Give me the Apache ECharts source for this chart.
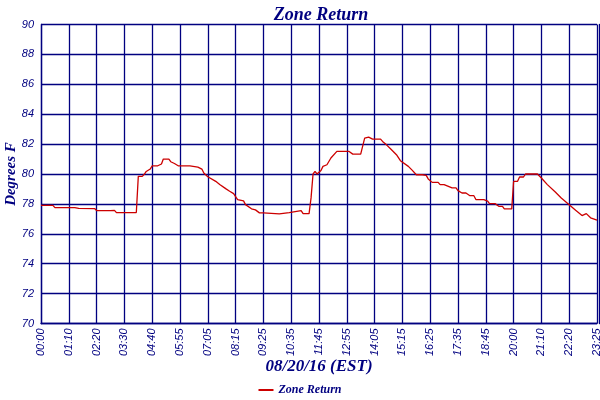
<!DOCTYPE html>
<html>
<head>
<meta charset="utf-8">
<script src="https://cdn.jsdelivr.net/npm/echarts@6/dist/echarts.min.js"></script>
<style>html,body{margin:0;padding:0;background:#fff}#c{width:600px;height:400px}</style>
</head>
<body>
<div id="c"></div>
<script>
var tickLabels = ['00:00','01:10','02:20','03:30','04:40','05:55','07:05','08:15','09:25','10:35','11:45','12:55','14:05','15:15','16:25','17:35','18:45','20:00','21:10','22:20','23:25'];
var times = ['00:00','00:30','00:35','01:25','01:30','01:35','02:15','02:20','02:55','03:00','03:05','03:10','04:00','04:05','04:15','04:20','04:25','04:35','04:40','04:55','05:05','05:10','05:25','05:30','05:35','05:40','05:50','06:20','06:40','06:45','06:50','06:55','07:05','07:10','07:25','07:35','07:50','08:00','08:10','08:20','08:35','08:40','08:55','09:00','09:05','09:15','09:25','09:30','10:05','10:10','10:30','10:35','11:00','11:05','11:20','11:25','11:30','11:35','11:40','11:45','11:50','11:55','12:00','12:05','12:15','12:20','12:30','13:00','13:05','13:10','13:30','13:35','13:40','13:45','13:50','14:00','14:20','14:25','14:35','14:45','15:00','15:10','15:30','15:40','15:50','16:05','16:10','16:15','16:20','16:30','16:45','16:50','17:00','17:05','17:20','17:30','17:35','17:45','17:55','18:05','18:15','18:20','18:40','18:50','18:55','19:10','19:20','19:30','19:35','19:55','20:00','20:05','20:10','20:15','20:25','20:30','21:00','21:05','21:10','21:25','21:45','22:00','22:20','22:35','22:50','23:00','23:10','23:25'];
var temps = [77.9,77.9,77.75,77.75,77.8,77.7,77.69,77.55,77.55,77.42,77.57,77.42,77.42,79.84,79.84,79.98,80.17,80.33,80.55,80.55,80.67,81.0,81.0,80.82,80.82,80.7,80.55,80.55,80.46,80.33,80.33,80.07,79.82,79.82,79.51,79.3,79.02,78.85,78.69,78.29,78.2,77.95,77.67,77.67,77.6,77.4,77.4,77.33,77.33,77.42,77.42,77.55,77.55,77.35,77.35,78.4,80.0,80.17,80.0,80.07,80.24,80.51,80.62,80.62,81.07,81.18,81.51,81.52,81.42,81.33,81.33,81.24,82.4,82.51,82.47,82.33,82.33,82.18,81.95,81.69,81.29,80.89,80.51,80.24,79.95,79.95,79.84,79.91,79.67,79.44,79.44,79.29,79.29,79.17,79.07,79.07,78.89,78.73,78.73,78.55,78.55,78.29,78.29,78.18,78.02,78.02,77.84,77.84,77.67,77.67,79.5,79.51,79.51,79.8,79.8,80.0,80.0,79.89,79.73,79.29,78.8,78.4,77.95,77.57,77.22,77.35,77.07,76.91];

function toMin(s){var p=s.split(':');return +p[0]*60+ +p[1];}
var tickMin = tickLabels.map(toMin);
function pos(s){
  var m = toMin(s);
  for (var k=0;k<tickMin.length-1;k++){
    if (m<=tickMin[k+1]) return k + (m-tickMin[k])/(tickMin[k+1]-tickMin[k]);
  }
  return tickMin.length-1;
}
var seriesData = times.map(function(t,i){return [pos(t), temps[i]];});

var navy = '#000080';
var chart = echarts.init(document.getElementById('c'));
chart.setOption({
  animation:false,
  backgroundColor:'#fff',
  title:{text:'Zone Return',left:316,textAlign:'center',top:1,
    textStyle:{color:navy,fontFamily:'Liberation Serif',fontStyle:'italic',fontWeight:'bold',fontSize:18}},
  grid:{left:41,right:3,top:24.5,bottom:76.5,show:false,containLabel:false,outerBoundsMode:'none'},
  legend:{top:379,left:'center',icon:'rect',itemWidth:15,itemHeight:2,itemGap:4,
    data:['Zone Return'],
    textStyle:{color:navy,fontFamily:'Liberation Serif',fontStyle:'italic',fontWeight:'bold',fontSize:12}},
  xAxis:{type:'value',min:0,max:20,interval:1,
    name:'08/20/16 (EST)',nameLocation:'middle',nameGap:35,nameMoveOverlap:false,
    nameTextStyle:{color:navy,fontFamily:'Liberation Serif',fontStyle:'italic',fontWeight:'bold',fontSize:17},
    axisLine:{show:true,lineStyle:{color:navy,width:1.3}},
    axisTick:{show:false},
    splitLine:{show:true,lineStyle:{color:navy,width:1.3}},
    axisLabel:{rotate:90,margin:5,color:navy,fontFamily:'Liberation Sans',fontStyle:'italic',fontSize:11,
      showMinLabel:true,showMaxLabel:true,
      formatter:function(v){return tickLabels[Math.round(v)];}}
  },
  yAxis:[{type:'value',min:70,max:90,interval:2,
    name:'Degrees F',nameLocation:'middle',nameGap:20,nameMoveOverlap:false,
    nameTextStyle:{color:navy,fontFamily:'Liberation Serif',fontStyle:'italic',fontWeight:'bold',fontSize:15},
    offset:2,
    axisLine:{show:true,lineStyle:{color:navy,width:1.3}},
    axisTick:{show:false},
    splitLine:{show:true,lineStyle:{color:navy,width:1.3}},
    axisLabel:{margin:5,color:navy,fontFamily:'Liberation Sans',fontStyle:'italic',fontSize:11}
  },{type:'value',min:70,max:90,interval:2,position:'right',offset:2,
    axisLine:{show:true,lineStyle:{color:navy,width:1.3}},
    axisTick:{show:false},axisLabel:{show:false},splitLine:{show:false}
  }],
  series:[{name:'Zone Return',type:'line',data:seriesData,showSymbol:false,symbol:'none',
    color:'#cc0000',lineStyle:{color:'#cc0000',width:1.3}}]
});
</script>
</body>
</html>
